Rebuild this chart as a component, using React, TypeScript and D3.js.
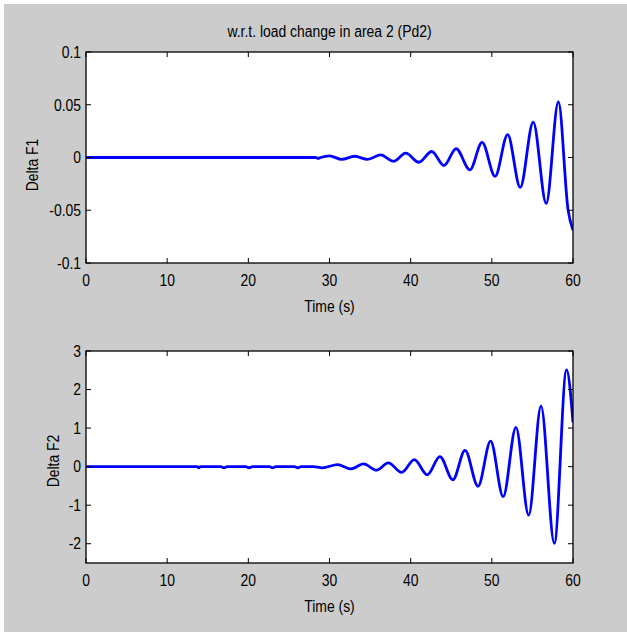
import React from "react";
import * as d3 from "d3";

const title = "w.r.t. load change in area 2 (Pd2)";
const xTicks = [0, 10, 20, 30, 40, 50, 60];
const yTicks1 = [-0.1, -0.05, 0, 0.05, 0.1];
const yTicks2 = [-2, -1, 0, 1, 2, 3];

const t1 = [0, 28.3, 28.6, 28.9, 30.0, 31.5, 33.1, 34.7, 36.3, 37.9, 39.4, 41.0, 42.6, 44.1, 45.6, 47.3, 48.8, 50.4, 51.95, 53.5, 55.1, 56.7, 58.2, 59.4, 60];
const v1 = [0, 0, -0.0008, 0, 0.0015, -0.0018, 0.0012, -0.0018, 0.0025, -0.0035, 0.0041, -0.0045, 0.0057, -0.0076, 0.0083, -0.0117, 0.0143, -0.0178, 0.0216, -0.0283, 0.0336, -0.0435, 0.0527, -0.05, -0.069];

const t2 = [0, 13.7, 13.9, 14.1, 16.6, 17.0, 17.4, 19.7, 20.1, 20.5, 22.6, 23.0, 23.4, 25.7, 26.1, 26.5, 28.0, 29.1, 31.0, 32.6, 34.2, 35.8, 37.25, 38.9, 40.45, 42.05, 43.6, 45.2, 46.7, 48.3, 49.85, 51.4, 52.97, 54.54, 56.06, 57.7, 59.2, 60];
const v2 = [0, 0, -0.03, 0, 0, -0.03, 0, 0, -0.03, 0, 0, -0.03, 0, 0, -0.03, 0, 0, -0.03, 0.05, -0.06, 0.07, -0.09, 0.1, -0.15, 0.18, -0.21, 0.26, -0.34, 0.42, -0.51, 0.66, -0.78, 1.02, -1.26, 1.57, -1.99, 2.51, 1.15];

const FONT = "'Liberation Sans', Arial, Helvetica, sans-serif";

function T({ x, y, anchor = "middle", rotate = 0, dy = "0", children }) {
  return (
    <text transform={`translate(${x},${y}) rotate(${rotate}) scale(0.87,1)`} textAnchor={anchor} dy={dy}
      fontSize={16} fontFamily={FONT} fill="#000">{children}</text>
  );
}

function Panel({ top, bottom, yDomain, yTicks, ts, vs, ylabel, ylabelX, ylabelY, id, tickFmt }) {
  const left = 86, right = 573;
  const x = d3.scaleLinear().domain([0, 60]).range([left, right]);
  const y = d3.scaleLinear().domain(yDomain).range([bottom, top]);
  const pts = ts.map((t, i) => [t, vs[i]]);
  const line = d3.line().x(d => x(d[0])).y(d => y(d[1])).curve(d3.curveMonotoneX);
  const tl = 5;
  return (
    <g>
      <defs>
        <clipPath id={id}>
          <rect x={left} y={top} width={right - left} height={bottom - top} />
        </clipPath>
      </defs>
      <rect x={left} y={top} width={right - left} height={bottom - top} fill="#ffffff" />
      <path d={line(pts)} fill="none" stroke="#0000ff" strokeWidth={2.8} strokeLinejoin="round" clipPath={`url(#${id})`} />
      <rect x={left} y={top} width={right - left} height={bottom - top} fill="none" stroke="#000" strokeWidth={1.3} />
      {xTicks.map(t => (
        <g key={"x" + t}>
          <line x1={x(t)} x2={x(t)} y1={bottom} y2={bottom - tl} stroke="#000" />
          <line x1={x(t)} x2={x(t)} y1={top} y2={top + tl} stroke="#000" />
          <T x={x(t)} y={bottom + 23}>{t}</T>
        </g>
      ))}
      {yTicks.map(v => (
        <g key={"y" + v}>
          <line x1={left} x2={left + tl} y1={y(v)} y2={y(v)} stroke="#000" />
          <line x1={right} x2={right - tl} y1={y(v)} y2={y(v)} stroke="#000" />
          <T x={left - 5} y={y(v)} dy="0.36em" anchor="end">{tickFmt(v)}</T>
        </g>
      ))}
      <T x={(left + right) / 2} y={bottom + 49}>Time (s)</T>
      <T x={ylabelX} y={ylabelY} rotate={-90} dy="0.36em">{ylabel}</T>
    </g>
  );
}

export default function App() {
  const fmt1 = (v: number) => (v === 0 ? "0" : String(+v.toFixed(2)));
  const fmt2 = (v: number) => String(v);
  return (
    <svg width={627} height={634} style={{ position: "absolute", left: 0, top: 0 }}>
      <rect x={0} y={0} width={627} height={634} fill="#ffffff" />
      <rect x={4} y={4} width={623} height={628} fill="#cccccc" />
      <T x={329.5} y={37}>{title}</T>
      <Panel id="c1" top={52} bottom={263} yDomain={[-0.1, 0.1]} yTicks={yTicks1} ts={t1} vs={v1}
        ylabel="Delta F1" ylabelX={32} ylabelY={165} tickFmt={fmt1} />
      <Panel id="c2" top={351} bottom={563} yDomain={[-2.5, 3]} yTicks={yTicks2} ts={t2} vs={v2}
        ylabel="Delta F2" ylabelX={53} ylabelY={461} tickFmt={fmt2} />
    </svg>
  );
}
